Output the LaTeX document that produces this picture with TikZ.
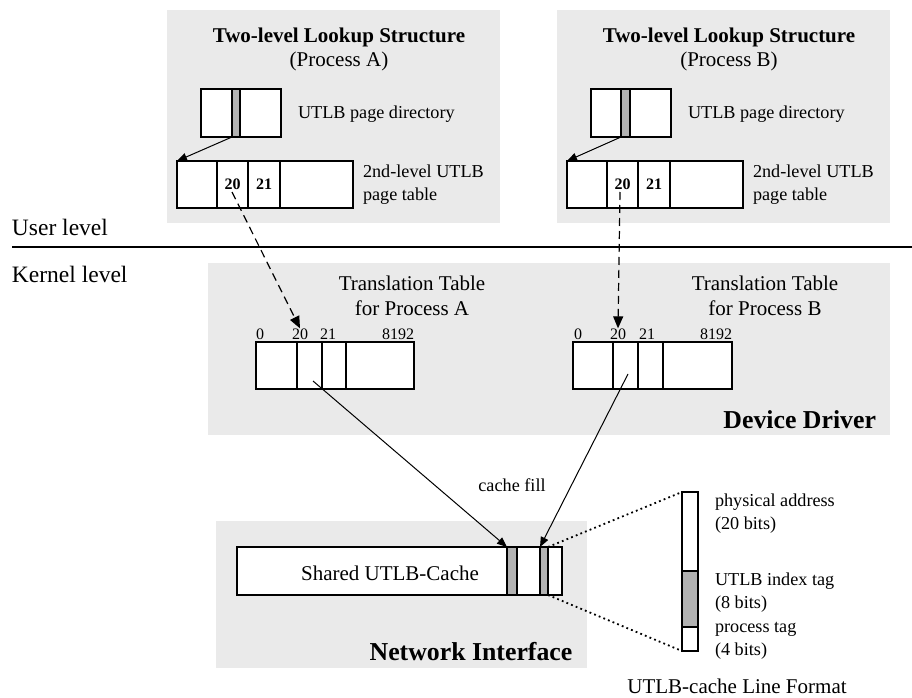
\documentclass[tikz,border=0pt]{standalone}
\usepackage{fontspec}
\setmainfont{Liberation Serif}
\usetikzlibrary{arrows.meta}
\definecolor{panel}{RGB}{234,234,234}
\definecolor{strip}{RGB}{178,178,178}
\tikzset{
  cell/.style={draw, line width=1.1pt, fill=white, inner sep=0pt, outer sep=0pt},
  shaded/.style={fill=strip},
  txt/.style={inner sep=0pt, outer sep=0pt},
  small/.style={txt, font=\fontsize{18.2}{22.5}\selectfont},
  mid/.style={txt, font=\fontsize{21}{25}\selectfont},
  lvl/.style={txt, font=\fontsize{23.5}{27}\selectfont},
  num/.style={txt, font=\fontsize{16}{18}\selectfont},
  bnum/.style={font=\bfseries\fontsize{16}{18}\selectfont},
  title/.style={txt, font=\bfseries\fontsize{21}{25}\selectfont},
  big/.style={txt, font=\bfseries\fontsize{25.8}{30}\selectfont},
  link/.style={line width=1pt, -{Triangle[length=10pt,width=8pt]}},
  dlink/.style={line width=1.2pt, dash pattern=on 8pt off 5pt, -{Triangle[length=12pt,width=10pt]}},
  dotlink/.style={line width=1.8pt, dash pattern=on 1.8pt off 3.2pt},
}
% a cell from its corners (x1,y1)-(x2,y2), y measured downwards
\newcommand\mkcell[7][]{%
  \node[cell,#1,minimum width={(#5-#3)*1pt},minimum height={(#6-#4)*1pt}]
    (#2) at ({(#3+#5)/2},{(#4+#6)/2}) {#7};}
\begin{document}
\begin{tikzpicture}[x=1pt,y=-1pt]
\useasboundingbox (0,0) rectangle (912,698);

% grey panels
\fill[panel] (167,10) rectangle (500,223);
\fill[panel] (557,10) rectangle (890,223);
\fill[panel] (208,263) rectangle (890,435);
\fill[panel] (216,521) rectangle (587,668);

% user / kernel boundary
\node[lvl, anchor=base west] (ulevel) at (12,235) {User level};
\node[lvl, anchor=base west] (klevel) at (12,282) {Kernel level};
\coordinate (sepL) at (12,247);
\coordinate (sepR) at (912,247);
\draw[line width=2.5pt] (sepL) -- (sepR);

% ---- two-level lookup structures ----
\node[title, anchor=base] (titA) at (339,43) {Two-level Lookup Structure};
\node[mid, anchor=base] (procA) at (339,67) {(Process A)};
\node[title, anchor=base] (titB) at (729,43) {Two-level Lookup Structure};
\node[mid, anchor=base] (procB) at (729,67) {(Process B)};

% page directories
\mkcell{pdA1}{201}{89}{232}{137}{}
\mkcell[shaded]{pdA2}{232}{89}{240}{137}{}
\mkcell{pdA3}{240}{89}{281}{137}{}
\node[small, anchor=base west] (pdlabA) at (298,119) {UTLB page directory};
\mkcell{pdB1}{591}{89}{621}{137}{}
\mkcell[shaded]{pdB2}{621}{89}{630}{137}{}
\mkcell{pdB3}{630}{89}{671}{137}{}
\node[small, anchor=base west] (pdlabB) at (688,119) {UTLB page directory};

% second-level page tables
\mkcell{ptA1}{177}{161}{217}{208}{}
\mkcell[bnum]{ptA2}{217}{161}{248}{208}{20}
\mkcell[bnum]{ptA3}{248}{161}{280}{208}{21}
\mkcell{ptA4}{280}{161}{353}{208}{}
\node[small, anchor=base west, align=left] (ptlabA) at (363,200) {2nd-level UTLB\\page table};
\mkcell{ptB1}{567}{161}{607}{208}{}
\mkcell[bnum]{ptB2}{607}{161}{638}{208}{20}
\mkcell[bnum]{ptB3}{638}{161}{670}{208}{21}
\mkcell{ptB4}{670}{161}{743}{208}{}
\node[small, anchor=base west, align=left] (ptlabB) at (753,200) {2nd-level UTLB\\page table};

\draw[link] (pdA2.south west) -- (ptA1.north west);
\draw[link] (pdB2.south west) -- (ptB1.north west);

% ---- device driver: translation tables ----
\node[mid, anchor=base, align=center] (ttA) at (412,315) {Translation Table\\for Process A};
\node[mid, anchor=base, align=center] (ttB) at (765,315) {Translation Table\\for Process B};

\mkcell{tA1}{256}{342}{297}{389}{}
\mkcell{tA2}{297}{342}{322}{389}{}
\mkcell{tA3}{322}{342}{346}{389}{}
\mkcell{tA4}{346}{342}{414}{389}{}
\node[num, anchor=base] (nA0) at (260,339) {0};
\node[num, anchor=base] (nA20) at (300,339) {20};
\node[num, anchor=base] (nA21) at (328,339) {21};
\node[num, anchor=base east] (nA8192) at (414,339) {8192};

\mkcell{tB1}{573}{342}{613}{389}{}
\mkcell{tB2}{613}{342}{638}{389}{}
\mkcell{tB3}{638}{342}{663}{389}{}
\mkcell{tB4}{663}{342}{732}{389}{}
\node[num, anchor=base] (nB0) at (578,339) {0};
\node[num, anchor=base] (nB20) at (618,339) {20};
\node[num, anchor=base] (nB21) at (647,339) {21};
\node[num, anchor=base east] (nB8192) at (732,339) {8192};

\node[big, anchor=base east] (dd) at (876,428) {Device Driver};

% page table entries point to translation table entries
\coordinate (dsA) at (232,192);
\coordinate (dsB) at (620,192);
\draw[dlink] (dsA) -- (nA20.north);
\draw[dlink] (dsB) -- (nB20.north);

% ---- network interface ----
\mkcell{c1}{237}{547}{507}{595}{}
\mkcell[shaded]{c2}{507}{547}{517}{595}{}
\mkcell{c3}{517}{547}{540}{595}{}
\mkcell[shaded]{c4}{540}{547}{548}{595}{}
\mkcell{c5}{548}{547}{562}{595}{}
\node[mid, anchor=base] (cachelab) at (390,580) {Shared UTLB-Cache};
\node[big, anchor=base] (ni) at (471,660) {Network Interface};
\node[small, anchor=base] (fill) at (512,491) {cache fill};

\coordinate (fsA) at (313,381);
\coordinate (fsB) at (628,374);
\draw[link] (fsA) -- (c2.north west);
\draw[link] (fsB) -- (c4.north west);

% ---- cache line format ----
\mkcell{lf1}{682}{492}{698}{571}{}
\mkcell[shaded]{lf2}{682}{571}{698}{627}{}
\mkcell{lf3}{682}{627}{698}{651}{}
\draw[dotlink] (c4.north east) -- (lf1.north west);
\draw[dotlink] (c4.south east) -- (lf3.south west);

\node[small, anchor=base west, align=left] (lfa) at (715,529) {physical address\\(20 bits)};
\node[small, anchor=base west, align=left] (lfb) at (715,608) {UTLB index tag\\(8 bits)};
\node[small, anchor=base west, align=left] (lfc) at (715,655) {process tag\\(4 bits)};
\node[mid, anchor=base] (lfcap) at (737,693) {UTLB-cache Line Format};
\end{tikzpicture}
\end{document}
